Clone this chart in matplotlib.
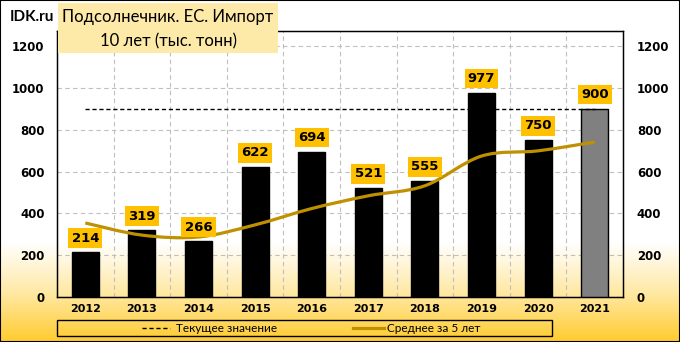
import matplotlib
matplotlib.use("Agg")
import matplotlib.pyplot as plt
import numpy as np
from matplotlib.path import Path
from matplotlib.patches import PathPatch, Rectangle
from matplotlib.lines import Line2D
from matplotlib.colors import LinearSegmentedColormap

# импорт подсолнечника в ЕС, тыс. тонн
years = ["2012", "2013", "2014", "2015", "2016", "2017", "2018", "2019", "2020", "2021"]
imports = [214, 319, 266, 622, 694, 521, 555, 977, 750, 900]
avg5 = [354, 296, 287, 345, 423, 484, 532, 674, 699, 741]
current = 900
yticks = [0, 200, 400, 600, 800, 1000, 1200]

gold = "#BF9000"
label_bg = "#FFC000"

fig = plt.figure(figsize=(6.8, 3.42), dpi=100)

# фон: белый сверху, желтый градиент снизу
bg = fig.add_axes([0, 0, 1, 1], zorder=-10)
grad = np.linspace(0, 1, 256).reshape(-1, 1)
cmap = LinearSegmentedColormap.from_list("bg", [(0, "#FFCB2E"), (0.5, "#FFE9A6"), (1, "#FFFFFF")])
bg.imshow(grad, aspect="auto", cmap=cmap, origin="lower", extent=[0, 1, 0, 0.29])
bg.set_xlim(0, 1)
bg.set_ylim(0, 1)
bg.axis("off")

ax = fig.add_axes([57 / 680, 45 / 342, 566 / 680, 266 / 342])
ax.patch.set_alpha(0)
x = np.arange(len(years))

colors = ["black"] * (len(years) - 1) + ["#808080"]
ax.bar(x, imports, width=0.48, color=colors, edgecolor="black", linewidth=1, zorder=3)

# текущее значение
ax.plot([x[0], x[-1]], [current, current], color="black", linestyle=(0, (3, 2)), linewidth=1, zorder=4)

# сглаженная линия среднего за 5 лет (кривые Безье)
pts = np.column_stack([x, avg5]).astype(float)
ext = np.vstack([pts[0], pts, pts[-1]])
verts = [tuple(pts[0])]
codes = [Path.MOVETO]
for i in range(1, len(ext) - 2):
    p0, p1, p2, p3 = ext[i - 1], ext[i], ext[i + 1], ext[i + 2]
    c1 = p1 + (p2 - p0) / 6
    c2 = p2 - (p3 - p1) / 6
    verts += [tuple(c1), tuple(c2), tuple(p2)]
    codes += [Path.CURVE4] * 3
ax.add_patch(PathPatch(Path(verts, codes), facecolor="none", edgecolor=gold, linewidth=2.3, zorder=5))

for xi, v in zip(x, imports):
    ax.text(xi, v + 68, str(v), ha="center", va="center", fontsize=9.5, fontweight="bold",
            bbox=dict(boxstyle="square,pad=0.25", facecolor=label_bg, edgecolor="none"), zorder=6)

ax.set_xlim(-0.5, len(years) - 0.5)
ax.set_ylim(0, 1272)
ax.set_yticks(yticks)
ax.set_xticks(x)
ax.set_xticklabels(years, fontsize=8, fontweight="bold")
ax.set_yticklabels([str(t) for t in yticks], fontsize=8.5, fontweight="bold")
ax.tick_params(length=0, pad=9)
ax.tick_params(axis="x", pad=5)
ax.set_xticks(np.arange(0.5, len(years) - 1, 1), minor=True)
ax.tick_params(which="minor", length=0)
ax.grid(axis="y", color="#BFBFBF", linestyle=(0, (4, 3)), linewidth=0.8, zorder=0)
ax.grid(axis="x", which="minor", color="#BFBFBF", linestyle=(0, (4, 3)), linewidth=0.8, zorder=0)
for s in ax.spines.values():
    s.set_linewidth(1)

ax2 = ax.twinx()
ax2.set_ylim(ax.get_ylim())
ax2.set_yticks(yticks)
ax2.set_yticklabels([str(t) for t in yticks], fontsize=8.5, fontweight="bold")
ax2.tick_params(length=0, pad=10)

# заголовок
fig.text(10 / 680, 1 - 17 / 342, "IDK.ru", fontsize=11, fontweight="bold", family="Lato",
         va="center", ha="left")
fig.patches.append(Rectangle((58 / 680, 1 - 53 / 342), 220 / 680, 50 / 342, transform=fig.transFigure,
                             facecolor="#FDE9A8", edgecolor="none", zorder=8))
fig.text(168 / 680, 1 - 17 / 342, "Подсолнечник. ЕС. Импорт", fontsize=12, family="Lato",
         va="center", ha="center", zorder=9)
fig.text(168 / 680, 1 - 41 / 342, "10 лет (тыс. тонн)", fontsize=12, family="Lato",
         va="center", ha="center", zorder=9)

# легенда
fig.patches.append(Rectangle((57 / 680, 6 / 342), 495 / 680, 16 / 342, transform=fig.transFigure,
                             facecolor="none", edgecolor="black", linewidth=1))
ly = 14 / 342
fig.lines.append(Line2D([142 / 680, 170 / 680], [ly, ly], transform=fig.transFigure,
                        color="black", linestyle=(0, (3, 2)), linewidth=1))
fig.text(176 / 680, ly, "Текущее значение", fontsize=8.5, family="Lato", va="center", ha="left")
fig.lines.append(Line2D([353 / 680, 384 / 680], [ly, ly], transform=fig.transFigure,
                        color=gold, linewidth=2.3))
fig.text(387 / 680, ly, "Среднее за 5 лет", fontsize=8.5, family="Lato", va="center", ha="left")

# рамка вокруг рисунка
fig.patches.append(Rectangle((0, 0), 1, 1, transform=fig.transFigure, facecolor="none",
                             edgecolor="black", linewidth=1.5))

fig.savefig("out.png", dpi=100)
